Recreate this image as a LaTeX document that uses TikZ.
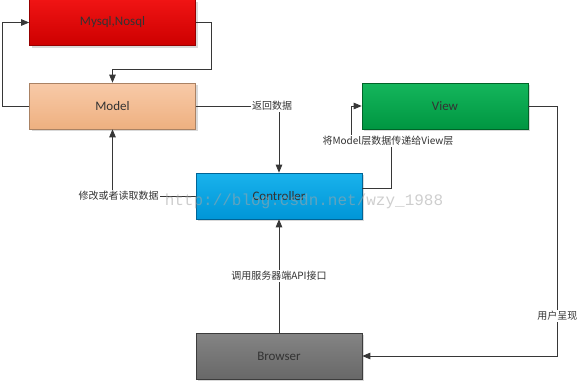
\documentclass[tikz,border=0pt]{standalone}
\usepackage{fontspec}
\setmainfont{Carlito}
\newfontfamily\cjk{Noto Sans CJK SC}
\newfontfamily\wmfont{Liberation Mono}
\usetikzlibrary{arrows.meta,shadows}
\definecolor{myT}{RGB}{240,20,20}\definecolor{myB}{RGB}{205,0,0}\definecolor{myD}{RGB}{150,0,0}
\definecolor{moT}{RGB}{248,202,168}\definecolor{moB}{RGB}{238,176,128}\definecolor{moD}{RGB}{170,130,100}
\definecolor{viT}{RGB}{20,182,92}\definecolor{viB}{RGB}{0,150,65}\definecolor{viD}{RGB}{0,100,40}
\definecolor{coT}{RGB}{25,178,236}\definecolor{coB}{RGB}{0,150,215}\definecolor{coD}{RGB}{0,100,150}
\definecolor{brT}{RGB}{132,132,132}\definecolor{brB}{RGB}{104,104,104}\definecolor{brD}{RGB}{60,60,60}
\definecolor{lineC}{RGB}{55,55,55}
\begin{document}
\begin{tikzpicture}[x=1pt,y=-1pt,
  box/.style={rectangle,minimum width=166pt,minimum height=46pt,inner sep=0pt,
    font=\fontsize{13}{15}\selectfont,text=black!80,line width=0.6pt,
    drop shadow={shadow xshift=2pt,shadow yshift=-2pt,fill=black!25,opacity=0.6}},
  conn/.style={draw=lineC,line width=0.8pt,-{Triangle[length=8pt,width=6.5pt]}},
  lbl/.style={fill=white,inner sep=1pt,font=\cjk\fontsize{10}{12}\selectfont,text=black!80}]
\useasboundingbox (0,0) rectangle (579,381);
\node[box,top color=myT,bottom color=myB,draw=myD] (mysql) at (112.5,22.5) {Mysql,Nosql};
\node[box,top color=moT,bottom color=moB,draw=moD] (model) at (112.5,106) {Model};
\node[box,top color=viT,bottom color=viB,draw=viD] (view) at (445,106) {View};
\node[box,top color=coT,bottom color=coB,draw=coD] (controller) at (279,196) {Controller};
\node[box,top color=brT,bottom color=brB,draw=brD] (browser) at (279,356) {Browser};
% connectors
\draw[conn] (model.west) -- ++(-27,0) |- (mysql.west);
\draw[conn] (mysql.east) -- ++(16,0) -- ++(0,47) -| (model.north);
\draw[conn] (model.east) -| node[lbl,pos=0.5,xshift=-7pt] {返回数据} (controller.north);
\draw[conn] (controller.west) -| node[lbl,pos=0.5,xshift=6pt] {修改或者读取数据} (model.south);
\draw[conn] ([yshift=8pt]controller.east) -- ++(29,0) -- ++(0,-47) -- ++(-40,0) |- (view.west);
\node[lbl] (l3) at (388,141) {将Model层数据传递给View层};
\draw[conn] (view.east) -- ++(29,0) |- node[lbl,pos=0.42] {用户呈现} (browser.east);
\draw[conn] (browser.north) -- node[lbl] {调用服务器端API接口} (controller.south);
% watermark
\node[text=black!35,opacity=0.55,font=\wmfont\fontsize{16}{18}\selectfont,inner sep=0pt] (wm) at (304,201) {http://blog.csdn.net/wzy\_1988};
\end{tikzpicture}
\end{document}
